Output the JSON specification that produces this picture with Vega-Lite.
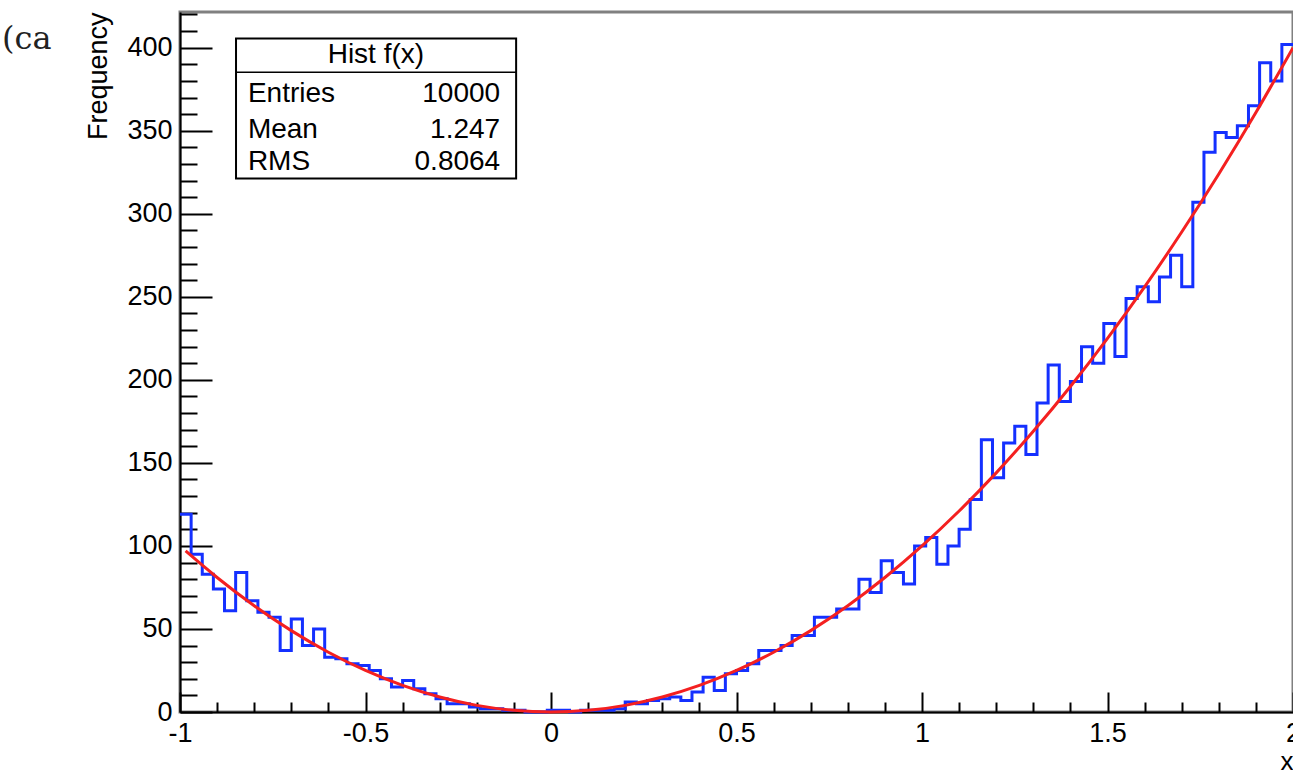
{
  "$schema": "https://vega.github.io/schema/vega-lite/v6.json",
  "width": 1113,
  "height": 700,
  "autosize": {"type": "none"},
  "padding": {"left": 180, "top": 12, "right": 0, "bottom": 60},
  "background": "white",
  "config": {
    "view": {"stroke": "#808080", "strokeWidth": 3},
    "font": "Liberation Sans"
  },
  "title": {
    "text": "(ca",
    "orient": "left",
    "anchor": "end",
    "angle": 0,
    "align": "right",
    "baseline": "top",
    "font": "DejaVu Serif",
    "fontSize": 32,
    "fontWeight": "normal",
    "color": "#222222",
    "offset": -16,
    "dy": 12
  },
  "datasets": {
    "one": [{}],
    "hist": [
      {"x": -1.00, "n": 119}, {"x": -0.97, "n": 95}, {"x": -0.94, "n": 83}, {"x": -0.91, "n": 74},
      {"x": -0.88, "n": 61}, {"x": -0.85, "n": 84}, {"x": -0.82, "n": 67}, {"x": -0.79, "n": 60},
      {"x": -0.76, "n": 57}, {"x": -0.73, "n": 37}, {"x": -0.70, "n": 56}, {"x": -0.67, "n": 40},
      {"x": -0.64, "n": 50}, {"x": -0.61, "n": 33}, {"x": -0.58, "n": 32}, {"x": -0.55, "n": 29},
      {"x": -0.52, "n": 28}, {"x": -0.49, "n": 25}, {"x": -0.46, "n": 20}, {"x": -0.43, "n": 15},
      {"x": -0.40, "n": 19}, {"x": -0.37, "n": 14}, {"x": -0.34, "n": 11}, {"x": -0.31, "n": 8},
      {"x": -0.28, "n": 5}, {"x": -0.25, "n": 5}, {"x": -0.22, "n": 3}, {"x": -0.19, "n": 2},
      {"x": -0.16, "n": 2}, {"x": -0.13, "n": 1}, {"x": -0.10, "n": 1}, {"x": -0.07, "n": 0},
      {"x": -0.04, "n": 0}, {"x": -0.01, "n": 1}, {"x": 0.02, "n": 1}, {"x": 0.05, "n": 0},
      {"x": 0.08, "n": 1}, {"x": 0.11, "n": 1}, {"x": 0.14, "n": 1}, {"x": 0.17, "n": 2},
      {"x": 0.20, "n": 6}, {"x": 0.23, "n": 5}, {"x": 0.26, "n": 7}, {"x": 0.29, "n": 8},
      {"x": 0.32, "n": 9}, {"x": 0.35, "n": 7}, {"x": 0.38, "n": 12}, {"x": 0.41, "n": 21},
      {"x": 0.44, "n": 13}, {"x": 0.47, "n": 23}, {"x": 0.50, "n": 25}, {"x": 0.53, "n": 29},
      {"x": 0.56, "n": 37}, {"x": 0.59, "n": 37}, {"x": 0.62, "n": 40}, {"x": 0.65, "n": 46},
      {"x": 0.68, "n": 46}, {"x": 0.71, "n": 57}, {"x": 0.74, "n": 57}, {"x": 0.77, "n": 62},
      {"x": 0.80, "n": 62}, {"x": 0.83, "n": 80}, {"x": 0.86, "n": 72}, {"x": 0.89, "n": 91},
      {"x": 0.92, "n": 84}, {"x": 0.95, "n": 77}, {"x": 0.98, "n": 100}, {"x": 1.01, "n": 105},
      {"x": 1.04, "n": 89}, {"x": 1.07, "n": 100}, {"x": 1.10, "n": 110}, {"x": 1.13, "n": 128},
      {"x": 1.16, "n": 164}, {"x": 1.19, "n": 141}, {"x": 1.22, "n": 162}, {"x": 1.25, "n": 172},
      {"x": 1.28, "n": 155}, {"x": 1.31, "n": 186}, {"x": 1.34, "n": 209}, {"x": 1.37, "n": 187},
      {"x": 1.40, "n": 199}, {"x": 1.43, "n": 220}, {"x": 1.46, "n": 210}, {"x": 1.49, "n": 234},
      {"x": 1.52, "n": 214}, {"x": 1.55, "n": 249}, {"x": 1.58, "n": 256}, {"x": 1.61, "n": 247},
      {"x": 1.64, "n": 262}, {"x": 1.67, "n": 275}, {"x": 1.70, "n": 256}, {"x": 1.73, "n": 307},
      {"x": 1.76, "n": 337}, {"x": 1.79, "n": 349}, {"x": 1.82, "n": 346}, {"x": 1.85, "n": 353},
      {"x": 1.88, "n": 365}, {"x": 1.91, "n": 391}, {"x": 1.94, "n": 380}, {"x": 1.97, "n": 402},
      {"x": 2.00, "n": 402}
    ],
    "fit": [
      {"x": -0.985, "y": 97.0}, {"x": -0.9, "y": 81}, {"x": -0.8, "y": 64}, {"x": -0.7, "y": 49},
      {"x": -0.6, "y": 36}, {"x": -0.5, "y": 25}, {"x": -0.4, "y": 16}, {"x": -0.3, "y": 9},
      {"x": -0.2, "y": 4}, {"x": -0.1, "y": 1}, {"x": 0.0, "y": 0}, {"x": 0.1, "y": 1},
      {"x": 0.2, "y": 4}, {"x": 0.3, "y": 9}, {"x": 0.4, "y": 16}, {"x": 0.5, "y": 25},
      {"x": 0.6, "y": 36}, {"x": 0.7, "y": 49}, {"x": 0.8, "y": 64}, {"x": 0.9, "y": 81},
      {"x": 1.0, "y": 100}, {"x": 1.1, "y": 121}, {"x": 1.2, "y": 144}, {"x": 1.3, "y": 169},
      {"x": 1.4, "y": 196}, {"x": 1.5, "y": 225}, {"x": 1.6, "y": 256}, {"x": 1.7, "y": 289},
      {"x": 1.8, "y": 324}, {"x": 1.9, "y": 361}, {"x": 2.0, "y": 400}
    ]
  },
  "layer": [
    {
      "data": {"name": "hist"},
      "mark": {"type": "line", "interpolate": "step-after", "color": "#1430ff", "strokeWidth": 3},
      "encoding": {
        "x": {
          "field": "x", "type": "quantitative",
          "scale": {"domain": [-1, 2], "nice": false, "zero": false},
          "axis": {
            "orient": "bottom", "values": [-0.9,-0.8,-0.7,-0.6,-0.4,-0.3,-0.2,-0.1,0.1,0.2,0.3,0.4,0.6,0.7,0.8,0.9,1.1,1.2,1.3,1.4,1.6,1.7,1.8,1.9],
            "labels": false, "domain": false, "grid": false, "title": null,
            "tickSize": -10, "tickWidth": 2, "tickColor": "black"
          }
        },
        "y": {
          "field": "n", "type": "quantitative",
          "scale": {"domain": [0, 421.5], "nice": false},
          "axis": {
            "orient": "left", "values": [10,20,30,40,60,70,80,90,110,120,130,140,160,170,180,190,210,220,230,240,260,270,280,290,310,320,330,340,360,370,380,390,410,420],
            "labels": false, "domain": false, "grid": false, "title": null,
            "tickSize": -17, "tickWidth": 2, "tickColor": "black"
          }
        }
      }
    },
    {
      "data": {"name": "fit"},
      "mark": {"type": "line", "interpolate": "monotone", "color": "#f42020", "strokeWidth": 3},
      "encoding": {
        "x": {
          "field": "x", "type": "quantitative",
          "axis": {
            "orient": "bottom", "values": [-1, -0.5, 0, 0.5, 1, 1.5, 2],
            "labelExpr": "'' + datum.value",
            "grid": false, "domainColor": "black", "domainWidth": 2,
            "tickSize": -20, "tickWidth": 2, "tickColor": "black",
            "labelFont": "Liberation Sans", "labelFontSize": 27, "labelColor": "black",
            "labelPadding": 28, "labelFlush": false, "labelOverlap": false,
            "title": "x", "titleAnchor": "end", "titleFont": "Liberation Sans",
            "titleFontSize": 26, "titleFontWeight": "normal", "titleColor": "black", "titlePadding": 2
          }
        },
        "y": {
          "field": "y", "type": "quantitative",
          "axis": {
            "orient": "left", "values": [0, 50, 100, 150, 200, 250, 300, 350, 400],
            "grid": false, "domainColor": "black", "domainWidth": 2,
            "tickSize": -32, "tickWidth": 2, "tickColor": "black",
            "labelFont": "Liberation Sans", "labelFontSize": 27, "labelColor": "black",
            "labelPadding": 40, "labelOverlap": false,
            "title": "Frequency", "titleAnchor": "end", "titleFont": "Liberation Sans",
            "titleFontSize": 27, "titleFontWeight": "normal", "titleColor": "black", "titlePadding": 14
          }
        }
      }
    },
    {
      "data": {"name": "one"},
      "mark": {"type": "rect", "fill": "white", "stroke": "black", "strokeWidth": 2},
      "encoding": {
        "x": {"datum": -0.849, "type": "quantitative", "axis": null},
        "x2": {"datum": -0.094},
        "y": {"datum": 405.6, "type": "quantitative", "axis": null},
        "y2": {"datum": 321.3}
      }
    },
    {
      "data": {"name": "one"},
      "mark": {"type": "rule", "stroke": "black", "strokeWidth": 1.5},
      "encoding": {
        "x": {"datum": -0.849, "type": "quantitative", "axis": null},
        "x2": {"datum": -0.094},
        "y": {"datum": 385.2, "type": "quantitative", "axis": null}
      }
    },
    {
      "data": {"name": "one"},
      "mark": {"type": "text", "text": "Hist f(x)", "align": "center", "baseline": "middle", "font": "Liberation Sans", "fontSize": 28, "color": "black"},
      "encoding": {
        "x": {"datum": -0.472, "type": "quantitative", "axis": null},
        "y": {"datum": 395.4, "type": "quantitative", "axis": null}
      }
    },
    {
      "data": {"name": "one"},
      "mark": {"type": "text", "text": "Entries", "align": "left", "baseline": "middle", "font": "Liberation Sans", "fontSize": 28, "color": "black"},
      "encoding": {
        "x": {"datum": -0.817, "type": "quantitative", "axis": null},
        "y": {"datum": 371.9, "type": "quantitative", "axis": null}
      }
    },
    {
      "data": {"name": "one"},
      "mark": {"type": "text", "text": "Mean", "align": "left", "baseline": "middle", "font": "Liberation Sans", "fontSize": 28, "color": "black"},
      "encoding": {
        "x": {"datum": -0.817, "type": "quantitative", "axis": null},
        "y": {"datum": 350.2, "type": "quantitative", "axis": null}
      }
    },
    {
      "data": {"name": "one"},
      "mark": {"type": "text", "text": "RMS", "align": "left", "baseline": "middle", "font": "Liberation Sans", "fontSize": 28, "color": "black"},
      "encoding": {
        "x": {"datum": -0.817, "type": "quantitative", "axis": null},
        "y": {"datum": 331.0, "type": "quantitative", "axis": null}
      }
    },
    {
      "data": {"name": "one"},
      "mark": {"type": "text", "text": "10000", "align": "right", "baseline": "middle", "font": "Liberation Sans", "fontSize": 28, "color": "black"},
      "encoding": {
        "x": {"datum": -0.137, "type": "quantitative", "axis": null},
        "y": {"datum": 371.9, "type": "quantitative", "axis": null}
      }
    },
    {
      "data": {"name": "one"},
      "mark": {"type": "text", "text": "1.247", "align": "right", "baseline": "middle", "font": "Liberation Sans", "fontSize": 28, "color": "black"},
      "encoding": {
        "x": {"datum": -0.137, "type": "quantitative", "axis": null},
        "y": {"datum": 350.2, "type": "quantitative", "axis": null}
      }
    },
    {
      "data": {"name": "one"},
      "mark": {"type": "text", "text": "0.8064", "align": "right", "baseline": "middle", "font": "Liberation Sans", "fontSize": 28, "color": "black"},
      "encoding": {
        "x": {"datum": -0.137, "type": "quantitative", "axis": null},
        "y": {"datum": 331.0, "type": "quantitative", "axis": null}
      }
    }
  ],
  "resolve": {"axis": {"x": "independent", "y": "independent"}}
}
